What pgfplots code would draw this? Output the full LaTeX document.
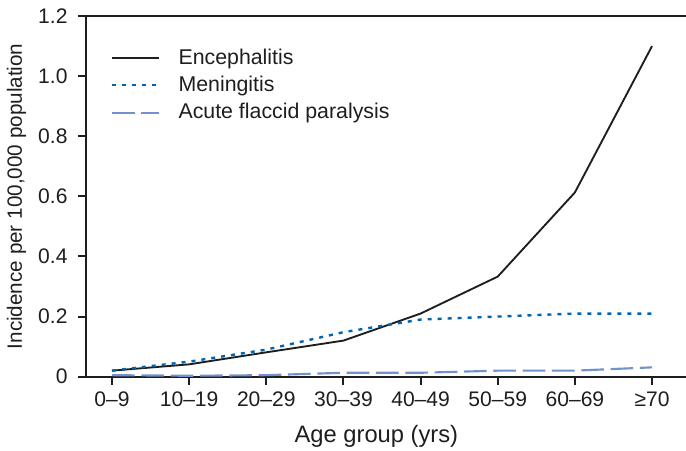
\documentclass[border=0pt]{standalone}
\usepackage{pgfplots}
\pgfplotsset{compat=1.18}
\usepackage{fontspec}
\setmainfont{Liberation Sans}
\definecolor{encc}{RGB}{30,30,30}
\definecolor{menc}{RGB}{0,100,175}
\definecolor{afpc}{RGB}{115,145,205}
\definecolor{axc}{RGB}{30,30,30}
\begin{document}
\fontsize{15.5}{18}\selectfont
\begin{tikzpicture}
\begin{axis}[
  name=ax,
  width=450pt, height=270.5pt, scale only axis,
  xmin=-0.337, xmax=7.44, ymin=0, ymax=1.2,
  axis x line*=box, axis y line*=left,
  xtick pos=lower, ytick pos=left,
  tick align=outside, major tick length=6pt,
  axis line style={line width=1.5pt, color=axc},
  every tick/.style={line width=1.5pt, color=axc},
  xtick={0,1,2,3,4,5,6,7},
  xticklabels={0–9,10–19,20–29,30–39,40–49,50–59,60–69,≥70},
  ytick={0,0.2,0.4,0.6,0.8,1.0,1.2},
  yticklabels={0,0.2,0.4,0.6,0.8,1.0,1.2},
  /pgf/number format/assume math mode=true,
  ticklabel style={text=axc, font=\fontsize{15.8}{18}\selectfont},
  yticklabel style={xshift=-2.5pt},
  xlabel={Age group (yrs)},
  ylabel={Incidence per 100,000 population},
  xlabel style={at={(axis description cs:0.484,0)}, anchor=center, yshift=-44.5pt, text=axc, font=\fontsize{17.8}{20}\selectfont},
  ylabel style={at={(axis description cs:-0.1156,0.5)}, anchor=center, text=axc},
  legend style={at={(axis description cs:0.034,0.925)}, anchor=north west, draw=none, fill=none, row sep=2.6pt, text=axc, font=\fontsize{16}{18}\selectfont},
  legend cell align=left,
  legend image code/.code={\draw[#1] (0pt,0pt) -- (35pt,0pt); \path[draw=none] (48pt,0pt);},
  clip=false,
]
\addplot[color=encc, line width=1.4pt] coordinates {
(0,0.02) (1,0.041) (2,0.081) (3,0.12) (4,0.21) (5,0.333) (6,0.613) (7,1.10)};
\addlegendentry{Encephalitis}
\addplot[color=menc, line width=1.8pt, dash pattern=on 3pt off 4.5pt] coordinates {
(0,0.02) (1,0.05) (2,0.09) (3,0.148) (4,0.19) (5,0.20) (6,0.21) (7,0.21)};
\addlegendentry{Meningitis}
\addplot[color=afpc, line width=1.6pt, dash pattern=on 17pt off 5pt] coordinates {
(0,0.005) (1,0.003) (2,0.005) (3,0.013) (4,0.013) (5,0.02) (6,0.02) (7,0.031)};
\addlegendentry{Acute flaccid paralysis}
\end{axis}
\pgfresetboundingbox
\path ([xshift=-64.5pt,yshift=-55.7pt]ax.south west) rectangle ([yshift=12pt]ax.north east);
\end{tikzpicture}
\end{document}
